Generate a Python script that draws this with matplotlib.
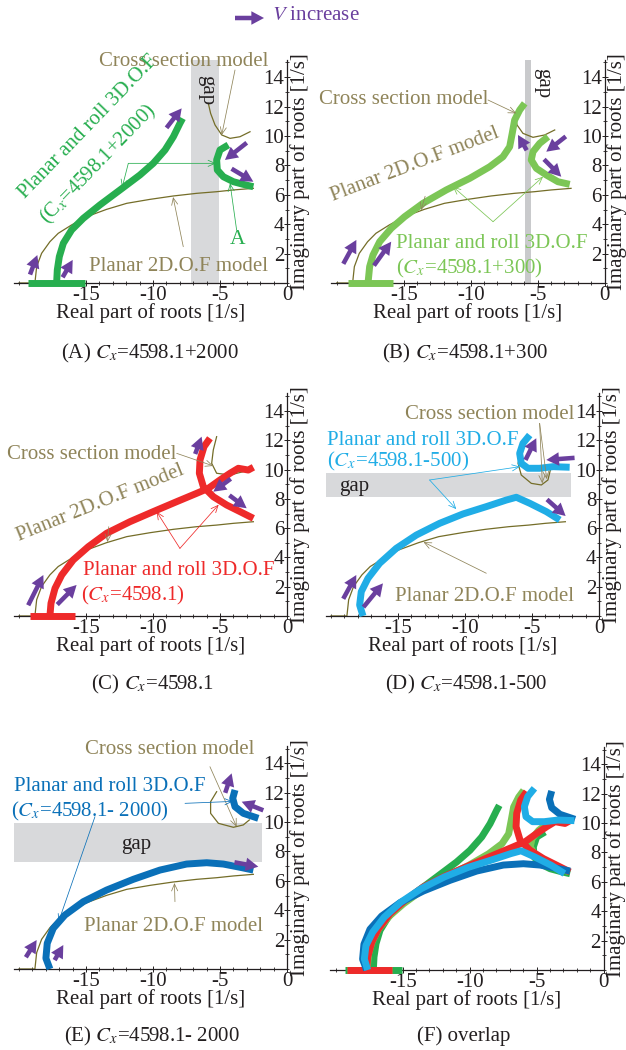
import matplotlib
matplotlib.use("Agg")
import matplotlib.pyplot as plt
from matplotlib.ticker import FixedLocator, MultipleLocator

plt.rcParams["font.family"] = ["Liberation Serif", "DejaVu Serif"]
plt.rcParams["mathtext.fontset"] = "stix"

PURPLE = "#6a3f9e"
OLIVE = "#746d28"
KHAKI = "#8f8459"
GAP_GREY = "#d8d9db"
INK = "#231f20"

GREEN = "#27ae4f"
LIGHT_GREEN = "#7cc656"
RED = "#ee2a2a"
LIGHT_BLUE = "#20ade6"
BLUE = "#0a70b8"

FS = 15
LW = 5.0

# Planar 2D.O.F model (thin curve, same in every panel)
PLANAR_X = [-20.0, -18.81, -18.68, -18.31, -17.69, -17.07, -16.07, -14.95, -13.46,
            -11.96, -10.22, -8.48, -6.74, -5.25, -4.0, -2.51]
PLANAR_Y = [0.0, 0.0, 1.11, 2.02, 2.81, 3.38, 3.95, 4.51, 5.01,
            5.42, 5.69, 5.92, 6.10, 6.21, 6.33, 6.44]

# (A) Cx = 4598.1 + 2000
A_AXIS_X = [-19.3, -15.07]
A_MAIN_X = [-17.19, -17.14, -16.99, -16.69, -16.07, -15.2, -13.96, -12.46, -10.97,
            -9.98, -9.10, -8.48, -7.99, -7.79]
A_MAIN_Y = [0.0, 0.88, 1.79, 2.70, 3.61, 4.40, 5.31, 6.33, 7.35,
            8.14, 9.05, 9.95, 10.86, 11.2]
A_BR_X = [-4.38, -5.0, -5.25, -5.2, -4.75, -4.0, -3.26, -2.51]
A_BR_Y = [9.39, 9.05, 8.37, 7.69, 7.23, 6.89, 6.71, 6.55]
A_CS_X = [-5.87, -5.70, -5.37, -4.87, -4.25, -3.51, -2.76]
A_CS_Y = [12.22, 11.54, 10.75, 10.07, 9.84, 9.95, 10.29]
A_ARROWS = [(-19.05, 0.88, -18.63, 1.9), (-16.57, 0.66, -15.99, 1.57),
            (-8.73, 10.86, -7.86, 11.88), (-3.38, 9.27, -4.63, 8.37),
            (-3.76, 7.57, -2.51, 6.89)]

# (B) Cx = 4598.1 + 300
B_AXIS_X = [-19.16, -15.8]
B_MAIN_X = [-17.66, -17.54, -17.29, -16.79, -15.93, -14.93, -13.56, -11.82, -10.07,
            -8.58, -7.59, -7.09, -6.90, -6.72, -6.34, -5.97]
B_MAIN_Y = [0.0, 1.11, 1.90, 2.81, 3.72, 4.51, 5.42, 6.33, 7.12,
            7.91, 8.59, 9.27, 10.18, 11.09, 11.77, 12.22]
B_BR_X = [-4.23, -4.85, -5.35, -5.48, -5.1, -4.36, -3.49, -2.61]
B_BR_Y = [9.95, 9.5, 8.93, 8.37, 7.8, 7.35, 6.89, 6.71]
B_CS_X = [-6.72, -6.54, -6.10, -5.35, -4.48, -3.73]
B_CS_Y = [11.43, 10.75, 10.18, 9.91, 10.07, 10.41]
B_ARROWS = [(-19.28, 1.68, -18.53, 2.93), (-16.92, 1.56, -15.93, 2.81),
            (-5.97, 9.27, -6.47, 10.07), (-3.24, 9.73, -4.36, 8.93),
            (-4.23, 8.14, -3.24, 7.23)]

# (C) Cx = 4598.1
C_AXIS_X = [-19.18, -15.82]
C_MAIN_X = [-17.69, -17.61, -17.31, -16.81, -15.95, -14.83, -13.46, -11.72, -9.98,
            -8.23, -6.74, -5.87, -5.0, -4.25, -3.63, -2.89, -2.51]
C_MAIN_Y = [0.0, 0.87, 1.89, 2.80, 3.83, 4.73, 5.65, 6.44, 7.13,
            7.81, 8.38, 8.72, 9.29, 9.75, 10.09, 9.97, 10.16]
C_BR_X = [-5.75, -6.19, -6.49, -6.54, -6.24, -5.5, -4.5, -3.51, -2.51]
C_BR_Y = [12.14, 11.57, 10.66, 9.75, 8.83, 8.15, 7.58, 7.13, 6.67]
C_CS_X = [-5.25, -5.5, -5.62, -5.25, -4.25, -3.26, -2.64]
C_CS_Y = [12.25, 11.34, 10.43, 9.75, 9.63, 9.86, 10.25]
C_ARROWS = [(-19.05, 1.21, -18.18, 2.8), (-16.81, 1.09, -15.7, 2.12),
            (-6.74, 11.34, -6.37, 12.25), (-4.5, 9.17, -5.5, 8.49),
            (-4.0, 8.04, -3.01, 7.36)]

# (D) Cx = 4598.1 - 500
D_MAIN_X = [-17.61, -17.86, -17.74, -17.24, -16.37, -15.13, -13.63, -11.89, -10.15,
            -8.41, -6.92, -6.17, -5.17, -3.93, -2.93]
D_MAIN_Y = [0.0, 0.75, 1.66, 2.57, 3.6, 4.62, 5.53, 6.33, 6.97,
            7.47, 7.92, 8.11, 7.70, 7.13, 6.56]
D_BR_X = [-5.17, -5.67, -5.92, -5.8, -5.3, -4.43, -3.43, -2.19]
D_BR_Y = [12.36, 11.8, 11.11, 10.43, 10.09, 10.09, 10.2, 10.16]
D_CS_X = [-5.22, -5.8, -6.04, -5.8, -5.05, -4.3, -3.81, -3.63]
D_CS_Y = [12.14, 11.34, 10.43, 9.63, 9.06, 8.95, 9.29, 9.97]
D_ARROWS = [(-18.86, 1.55, -18.11, 2.8), (-17.24, 0.98, -16.12, 2.23),
            (-5.3, 11.0, -4.68, 12.14), (-2.31, 10.77, -3.93, 10.66),
            (-3.56, 7.7, -2.49, 6.83)]

# (E) Cx = 4598.1 - 2000
E_MAIN_X = [-17.69, -17.99, -17.89, -17.44, -16.57, -15.2, -13.46, -11.47, -9.48,
            -7.49, -5.99, -4.75, -3.51, -2.51]
E_MAIN_Y = [0.0, 0.73, 1.75, 2.77, 3.67, 4.58, 5.37, 6.1, 6.73,
            7.14, 7.23, 7.14, 6.92, 6.73]
E_BR_X = [-3.88, -4.05, -3.88, -3.26, -2.14]
E_BR_Y = [12.18, 11.61, 11.04, 10.59, 10.25]
E_CS_X = [-5.25, -5.7, -5.7, -5.12, -4.0, -3.26, -2.81]
E_CS_Y = [12.06, 11.38, 10.59, 9.91, 9.64, 9.8, 10.14]
E_ARROWS = [(-19.3, 1.07, -18.68, 1.97), (-17.19, 0.84, -16.69, 1.63),
            (-4.5, 12.29, -4.13, 13.31), (-2.14, 10.93, -3.38, 11.38),
            (-3.51, 7.19, -2.14, 6.96)]

XLIM = (-20.4, 0.0)
YLIM = (0.0, 15.2)
W, H = 626, 1050

ARROW_STYLE = dict(arrowstyle="simple,head_length=0.7,head_width=0.75,tail_width=0.25",
                   color=PURPLE, lw=0, shrinkA=0, shrinkB=0, mutation_scale=13)


def rect(right_px, bottom_px, yscale):
    width = 273.4
    height = YLIM[1] * yscale
    return [(right_px - width) / W, 1 - bottom_px / H, width / W, height / H]


def style_axes(ax):
    ax.set_xlim(*XLIM)
    ax.set_ylim(*YLIM)
    ax.patch.set_alpha(0)
    ax.spines["top"].set_visible(False)
    ax.spines["right"].set_visible(False)
    ax.spines["left"].set_position(("data", 0))
    for side in ("left", "bottom"):
        ax.spines[side].set_color(INK)
        ax.spines[side].set_linewidth(0.9)
    ax.xaxis.set_major_locator(FixedLocator([-15, -10, -5, 0]))
    ax.xaxis.set_minor_locator(MultipleLocator(1))
    ax.yaxis.set_major_locator(FixedLocator(list(range(2, 15, 2))))
    ax.yaxis.set_minor_locator(MultipleLocator(1))
    ax.set_xticklabels(["-15", "-10", "-5", "0"])
    ax.tick_params(which="major", labelsize=FS, colors=INK, length=4, width=0.7,
                   direction="inout", pad=0)
    ax.tick_params(which="minor", length=2.5, width=0.6, color=INK, direction="inout")
    ax.set_xlabel("Real part of roots [1/s]", fontsize=FS, color=INK, labelpad=-1)
    ax.yaxis.set_label_position("right")
    ax.set_ylabel("Imaginary part of roots [1/s]", fontsize=FS, color=INK, labelpad=2)


def thick(ax, x, y, color, lw=LW):
    ax.plot(x, y, color=color, lw=lw, solid_capstyle="butt", solid_joinstyle="round",
            clip_on=False, zorder=3)


def axis_bar(ax, xs, color, lw=LW):
    ax.plot(xs, [0, 0], color=color, lw=lw, solid_capstyle="butt", clip_on=False, zorder=3)


def thin(ax, x, y):
    ax.plot(x, y, color=OLIVE, lw=0.9, zorder=2, clip_on=False)


def arrows(ax, items, stretch=1.3):
    # the tail is pulled back a little so the shaft shows behind the head
    for x0, y0, x1, y1 in items:
        tail = (x1 - stretch * (x1 - x0), y1 - stretch * (y1 - y0))
        ax.annotate("", xy=(x1, y1), xytext=tail, annotation_clip=False, zorder=5,
                    arrowprops=ARROW_STYLE)


def pointer(ax, start, end, color):
    ax.annotate("", xy=end, xytext=start, annotation_clip=False, zorder=4,
                arrowprops=dict(arrowstyle="->,head_length=0.5,head_width=0.22",
                                color=color, lw=0.55, shrinkA=0, shrinkB=0,
                                mutation_scale=10))


def label(ax, x, y, s, color, rot=0, size=FS):
    ax.text(x, y, s, color=color, fontsize=size, ha="center", va="center",
            rotation=rot, rotation_mode="anchor", clip_on=False, zorder=6)


fig = plt.figure(figsize=(W / 100, H / 100), dpi=100)
fig.patch.set_facecolor("white")

axA = fig.add_axes(rect(287, 283, 14.7))
axB = fig.add_axes(rect(604.7, 283, 14.7))
axC = fig.add_axes(rect(287, 616, 14.64))
axD = fig.add_axes(rect(599, 616, 14.64))
axE = fig.add_axes(rect(287, 969, 14.7))
axF = fig.add_axes(rect(603.7, 970, 14.7))
for ax in (axA, axB, axC, axD, axE, axF):
    style_axes(ax)

# ---- (A)
ax = axA
ax.axvspan(-7.2, -5.1, color=GAP_GREY, zorder=0, lw=0)
label(ax, -6.0, 13.1, "gap", INK, rot=-90)
thin(ax, PLANAR_X, PLANAR_Y)
thin(ax, A_CS_X, A_CS_Y)
axis_bar(ax, A_AXIS_X, GREEN)
thick(ax, A_MAIN_X, A_MAIN_Y, GREEN)
thick(ax, A_BR_X, A_BR_Y, GREEN)
arrows(ax, A_ARROWS)
label(ax, -7.74, 15.05, "Cross section model", KHAKI)
pointer(ax, (-3.88, 14.49), (-4.87, 10.07), KHAKI)
label(ax, -14.83, 10.63, "Planar and roll 3D.O.F", GREEN, rot=46)
label(ax, -14.03, 8.1, r"(C$_x$=4598.1+2000)", GREEN, rot=46)
pointer(ax, (-11.84, 8.14), (-12.3, 6.5), GREEN)
pointer(ax, (-11.84, 8.14), (-5.3, 8.14), GREEN)
label(ax, -3.71, 2.93, "A", GREEN, size=15.5)
pointer(ax, (-3.76, 3.61), (-4.25, 6.78), GREEN)
label(ax, -8.11, 1.11, "Planar 2D.O.F model", KHAKI)
pointer(ax, (-7.74, 2.47), (-8.5, 5.85), KHAKI)

# ---- (B)
ax = axB
ax.axvspan(-5.97, -5.47, color="#c9cacc", zorder=0, lw=0)
label(ax, -4.6, 13.58, "gap", INK, rot=-90)
thin(ax, PLANAR_X, PLANAR_Y)
thin(ax, B_CS_X, B_CS_Y)
axis_bar(ax, B_AXIS_X, LIGHT_GREEN)
thick(ax, B_MAIN_X, B_MAIN_Y, LIGHT_GREEN)
thick(ax, B_BR_X, B_BR_Y, LIGHT_GREEN)
arrows(ax, B_ARROWS)
label(ax, -15.0, 12.45, "Cross section model", KHAKI)
pointer(ax, (-8.71, 12.45), (-6.6, 11.54), KHAKI)
label(ax, -14.18, 8.03, "Planar 2D.O.F model", KHAKI, rot=21)
pointer(ax, (-13.4, 5.9), (-13.7, 4.95), KHAKI)
label(ax, -8.46, 2.7, "Planar and roll 3D.O.F", LIGHT_GREEN)
label(ax, -10.07, 1.0, r"($C_x$=4598.1+300)", LIGHT_GREEN)
pointer(ax, (-8.33, 4.17), (-11.32, 6.55), LIGHT_GREEN)
pointer(ax, (-8.33, 4.17), (-4.6, 7.23), LIGHT_GREEN)

# ---- (C)
ax = axC
thin(ax, PLANAR_X, PLANAR_Y)
thin(ax, C_CS_X, C_CS_Y)
axis_bar(ax, C_AXIS_X, RED)
thick(ax, C_MAIN_X, C_MAIN_Y, RED)
thick(ax, C_BR_X, C_BR_Y, RED)
arrows(ax, C_ARROWS)
label(ax, -14.58, 11.04, "Cross section model", KHAKI)
pointer(ax, (-8.23, 11.11), (-5.5, 10.25), KHAKI)
label(ax, -13.96, 7.7, "Planar 2D.O.F model", KHAKI, rot=22)
pointer(ax, (-13.3, 6.1), (-13.4, 5.05), KHAKI)
label(ax, -8.11, 3.14, "Planar and roll 3D.O.F", RED)
label(ax, -11.47, 1.43, r"($C_x$=4598.1)", RED)
pointer(ax, (-7.99, 4.62), (-9.73, 7.13), RED)
pointer(ax, (-7.99, 4.62), (-5.1, 7.6), RED)

# ---- (D)
ax = axD
ax.fill_between([-20.4, -2.06], 8.15, 9.79, color=GAP_GREY, zorder=0, lw=0, clip_on=False)
label(ax, -18.23, 8.83, "gap", INK)
thin(ax, PLANAR_X, PLANAR_Y)
thin(ax, D_CS_X, D_CS_Y)
thick(ax, D_MAIN_X, D_MAIN_Y, LIGHT_BLUE)
thick(ax, D_BR_X, D_BR_Y, LIGHT_BLUE)
arrows(ax, D_ARROWS)
label(ax, -8.15, 13.73, "Cross section model", KHAKI)
pointer(ax, (-4.43, 13.16), (-4.23, 9.06), KHAKI)
pointer(ax, (-4.43, 13.16), (-3.9, 9.35), KHAKI)
label(ax, -13.13, 12.02, "Planar and roll 3D.O.F", LIGHT_BLUE)
label(ax, -15.0, 10.54, r"($C_x$=4598.1-500)", LIGHT_BLUE)
pointer(ax, (-12.64, 9.29), (-10.65, 7.3), LIGHT_BLUE)
pointer(ax, (-12.64, 9.29), (-5.9, 10.2), LIGHT_BLUE)
label(ax, -8.53, 1.32, "Planar 2D.O.F model", KHAKI)
pointer(ax, (-8.41, 2.92), (-13.1, 5.05), KHAKI)

# ---- (E)
ax = axE
ax.fill_between([-20.4, -1.89], 7.3, 9.91, color=GAP_GREY, zorder=0, lw=0, clip_on=False)
label(ax, -11.22, 8.5, "gap", INK)
thin(ax, PLANAR_X, PLANAR_Y)
thin(ax, E_CS_X, E_CS_Y)
thick(ax, E_MAIN_X, E_MAIN_Y, BLUE)
thick(ax, E_BR_X, E_BR_Y, BLUE)
arrows(ax, E_ARROWS)
label(ax, -8.73, 14.9, "Cross section model", KHAKI)
pointer(ax, (-5.75, 13.76), (-3.76, 9.68), KHAKI)
label(ax, -13.21, 12.4, "Planar and roll 3D.O.F", BLUE)
label(ax, -14.7, 10.7, r"($C_x$=4598.1- 2000)", BLUE)
pointer(ax, (-7.61, 11.27), (-4.05, 11.4), BLUE)
pointer(ax, (-14.33, 10.36), (-17.05, 3.2), BLUE)
label(ax, -8.48, 2.88, "Planar 2D.O.F model", KHAKI)
pointer(ax, (-8.36, 4.58), (-8.4, 5.85), KHAKI)

# ---- (F) overlap
ax = axF
axis_bar(ax, A_AXIS_X, GREEN)
thick(ax, A_MAIN_X, A_MAIN_Y, GREEN)
thick(ax, A_BR_X, A_BR_Y, GREEN)
axis_bar(ax, B_AXIS_X, LIGHT_GREEN)
thick(ax, B_MAIN_X, B_MAIN_Y, LIGHT_GREEN)
thick(ax, B_BR_X, B_BR_Y, LIGHT_GREEN)
axis_bar(ax, C_AXIS_X, RED)
thick(ax, C_MAIN_X, C_MAIN_Y, RED)
thick(ax, C_BR_X, C_BR_Y, RED)
thick(ax, E_MAIN_X, E_MAIN_Y, BLUE)
thick(ax, E_BR_X, E_BR_Y, BLUE)
thick(ax, D_MAIN_X, D_MAIN_Y, LIGHT_BLUE)
thick(ax, D_BR_X, D_BR_Y, LIGHT_BLUE)

# captions
captions = [(150, 353, r"(A) $C_x$=4598.1+2000"), (465, 353, r"(B) $C_x$=4598.1+300"),
            (152, 684, r"(C) $C_x$=4598.1"), (466, 684, r"(D) $C_x$=4598.1-500"),
            (152, 1036, r"(E) $C_x$=4598.1- 2000"), (464, 1036, "(F) overlap")]
for cx, cy, s in captions:
    fig.text(cx / W, 1 - cy / H, s, fontsize=FS, color=INK, ha="center", va="center")

# top legend
axA.annotate("", xy=(264 / W, 1 - 18 / H), xytext=(235 / W, 1 - 18 / H),
             xycoords="figure fraction", textcoords="figure fraction",
             annotation_clip=False, arrowprops=ARROW_STYLE)
fig.text(272 / W, 1 - 16 / H, r"$V$ increase", fontsize=FS, color=PURPLE,
         ha="left", va="center")

fig.savefig("out.png", dpi=100, facecolor="white")
